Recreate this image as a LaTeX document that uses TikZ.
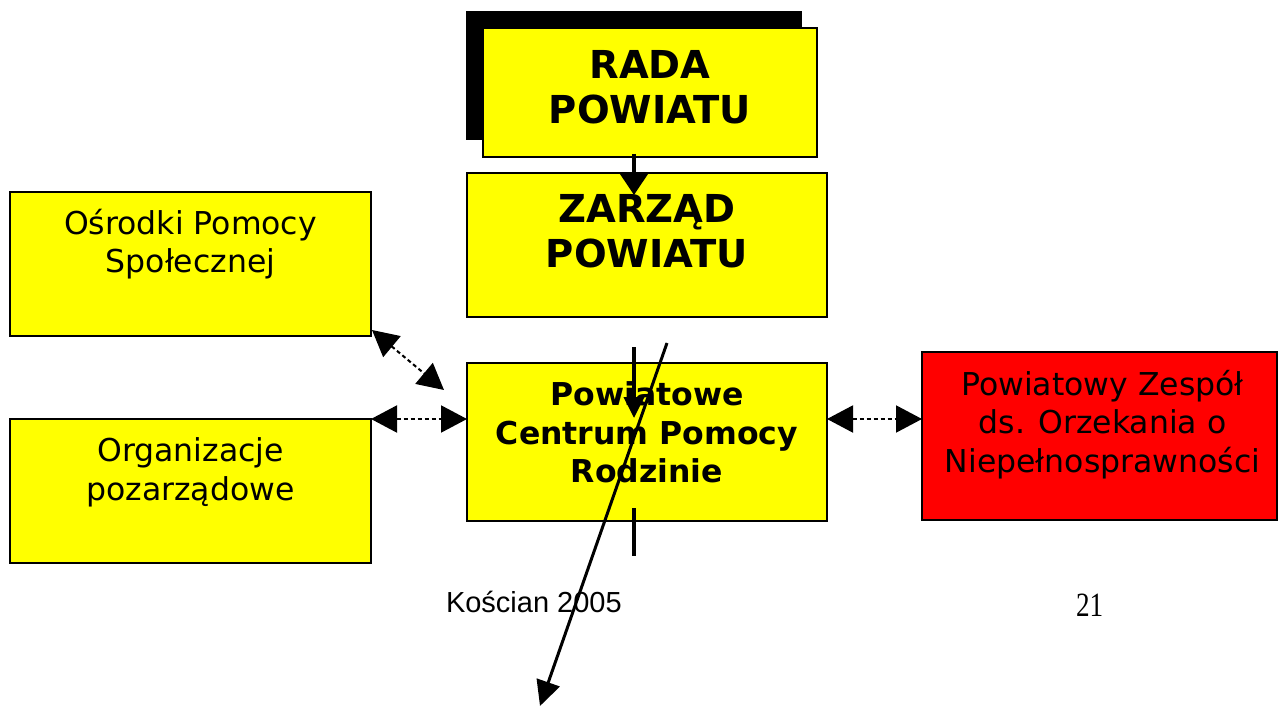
\documentclass[tikz,border=0pt]{standalone}
\usepackage{fontspec}
\setmainfont{DejaVu Sans}
\newfontfamily\footfont{Liberation Sans}
\newfontfamily\pagefont{Liberation Serif}
\usepackage{graphicx}
\usetikzlibrary{positioning,arrows.meta}
\definecolor{boxyellow}{RGB}{255,255,0}
\definecolor{boxred}{RGB}{255,0,0}
\tikzset{%
  >={Triangle[length=22pt,width=26pt]},
  inner sep=0pt,%
  outer sep=0pt,%
  unit box/.style={draw=black,line width=2pt,fill=boxyellow,anchor=north west},
  big title/.style={font=\bfseries\fontsize{38.5}{45}\selectfont,align=center},
  mid title/.style={font=\bfseries\fontsize{31.5}{38.5}\selectfont,align=center},
  plain title/.style={font=\fontsize{31.5}{38.5}\selectfont,align=center},
  link/.style={<->,line width=2pt,dash pattern=on 4pt off 3pt,
    >={Triangle[length=26pt,width=27pt]}}%
}

\begin{document}
\begin{tikzpicture}[x=1pt,y=-1pt]
\useasboundingbox (0,0) rectangle (1278,706);

%% boxes
\fill[black] (466,11) rectangle (802,140); % shadow of the council
\node[unit box,minimum width=334pt,minimum height=129pt] (rada) at (483,28) {};
\node[unit box,minimum width=360pt,minimum height=144pt] (zarzad) at (467,173) {};
\node[unit box,minimum width=361pt,minimum height=144pt] (osp) at (10,192) {};
\node[unit box,minimum width=361pt,minimum height=144pt] (ngo) at (10,419) {};
\node[unit box,minimum width=360pt,minimum height=158pt] (pcpr) at (467,363) {};
\node[unit box,fill=boxred,minimum width=355pt,minimum height=168pt] (zespol) at (922,352) {};

%% texts
\node[big title,below=22pt of rada.north] (radaText) {RADA\\POWIATU};
\node[big title,below=21pt of zarzad.north] (zarzadText) {ZARZĄD\\POWIATU};
\node[mid title,below=19pt of pcpr.north] (pcprText) {Powiatowe\\Centrum Pomocy\\Rodzinie};
\node[plain title,below=17pt of osp.north] (ospText) {Ośrodki Pomocy\\Społecznej};
\node[plain title,below=19pt of ngo.north] (ngoText) {Organizacje\\pozarządowe};
\node[plain title,below=18pt of zespol.north,xshift=3pt] (zespolText)
    {Powiatowy Zespół\\ds. Orzekania o\\Niepełnosprawności};

\node[anchor=base west,font=\footfont\fontsize{29}{34}\selectfont] (place) at (446,612) {Kościan 2005};
\node[anchor=base west,font=\pagefont\fontsize{34}{40}\selectfont] (page) at (1076,616) {\scalebox{0.8}[1]{21}};

%% connectors
\coordinate (radaOut) at (634,154);
\coordinate (zarzadIn) at (634,195);
\coordinate (pcprTop) at (634,347);
\coordinate (pcprIn) at (634,418);
\coordinate (pcprBottom) at (634,508);
\coordinate (pcprOut) at (634,556);
\coordinate (slashTop) at (667,343);
\coordinate (slashEnd) at (540,706);
\coordinate (ospCorner) at (372,330);
\coordinate (ospLink) at (444,390);

\draw[->,line width=4pt,>={Triangle[length=21pt,width=27pt]}] (radaOut) -- (zarzadIn);
\draw[->,line width=4pt,>={Triangle[length=21pt,width=20pt]}] (pcprTop) -- (pcprIn);
\draw[line width=4pt] (pcprBottom) -- (pcprOut);
\draw[->,line width=3pt,>={Triangle[length=25pt,width=24pt]}] (slashTop) -- (slashEnd);

\draw[link] (ospCorner) -- (ospLink);
\draw[link] (ngo.north east) -- (pcpr.west |- ngo.north east);
\draw[link] (pcpr.east |- ngo.north east) -- (zespol.west |- ngo.north east);

\end{tikzpicture}
\end{document}
